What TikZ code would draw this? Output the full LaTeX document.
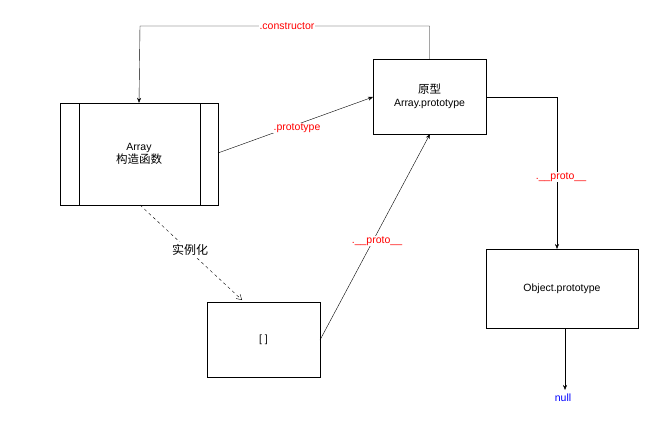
\documentclass[tikz,border=0pt]{standalone}
\usepackage{fontspec}
\setmainfont{Liberation Sans}
\newfontfamily\cjk{Noto Sans CJK SC}
\usetikzlibrary{arrows.meta}
\begin{document}
\begin{tikzpicture}[x=1pt,y=-1pt,font=\fontsize{10.5}{12.5}\selectfont,
  box/.style={draw,inner sep=0pt,align=center},
  arr/.style={-{Stealth[length=5pt,width=4pt]}},
  lbl/.style={text=red,fill=white,inner sep=1pt}]
\useasboundingbox (0,0) rectangle (664,423);
\node[box,minimum width=158pt,minimum height=102pt] (arr) at (139,154) {Array\\{\cjk\fontsize{11.5}{13}\selectfont 构造函数}};
\draw (79,103) -- (79,205) (200,103) -- (200,205);
\node[box,minimum width=113pt,minimum height=75pt] (proto) at (429.5,96.5) {{\cjk\fontsize{11.5}{13}\selectfont 原型}\\Array.prototype};
\node[box,minimum width=152pt,minimum height=79pt] (obj) at (562,288.5) {Object.prototype};
\node[box,minimum width=113pt,minimum height=75pt] (inst) at (263.5,339.5) {[ ]};
\coordinate (n) at (565,390);
\node[text=blue] (nul) at (563,398) {null};
\draw[arr] (proto.north) |- (140,26) -- (arr.north);
\node[lbl] (lc) at (287,26) {.constructor};
\draw[arr] (218,153) -- (373,97);
\node[lbl] (lp) at (297,128) {.prototype};
\draw[arr] (320,340) -- (430,134);
\node[lbl] (lpr) at (377,241) {.\_\_proto\_\_};
\draw[arr] (486,97) -| (557,249);
\node[lbl] (lpr2) at (561,177) {.\_\_proto\_\_};
\draw[arr] (565,328) -- (n);
\draw[dashed,-{Straight Barb[length=5pt,width=6pt]}] (140,205) -- (242,300);
\node[fill=white,inner sep=2pt,font=\fontsize{12}{14}\cjk] (sl) at (190,250) {实例化};
\end{tikzpicture}
\end{document}
